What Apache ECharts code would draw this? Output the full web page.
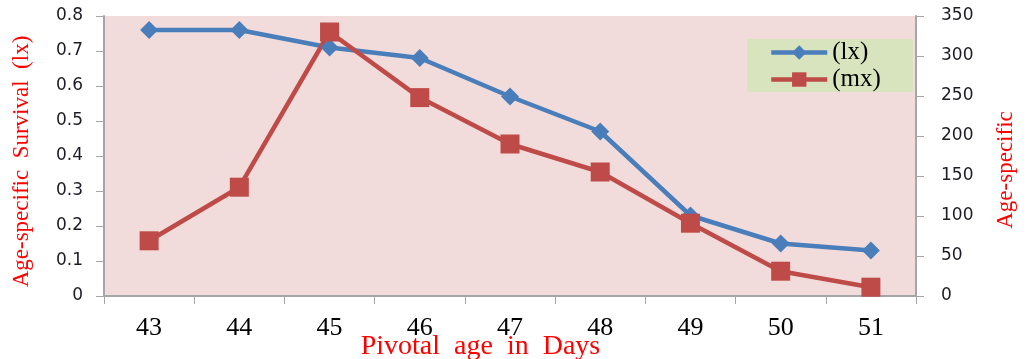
<!DOCTYPE html>
<html>
<head>
<meta charset="utf-8">
<script src="https://cdn.jsdelivr.net/npm/echarts@6/dist/echarts.min.js"></script>
<style>
html,body{margin:0;padding:0;background:#fff;}
#c{width:1027px;height:359px;}
</style>
</head>
<body>
<div id="c"></div>
<script>
const categories = ['43','44','45','46','47','48','49','50','51'];
const lxValues = [0.76, 0.76, 0.71, 0.68, 0.57, 0.47, 0.23, 0.15, 0.13];
const mxValues = [69, 136, 330, 248, 190, 155, 91, 31, 11];
const lxName = '(lx)';
const mxName = '(mx)';

const chart = echarts.init(document.getElementById('c'));
const axisGray = '#a6a6a6';
const labelColor = '#1c1c24';
chart.setOption({
  animation: false,
  backgroundColor: '#ffffff',
  grid: {
    left: 104, right: 111, top: 16, bottom: 63,
    outerBoundsMode: 'none',
    containLabel: false,
    show: true, backgroundColor: '#f2dcdb', borderWidth: 0
  },
  legend: {
    left: 747, top: 39,
    orient: 'vertical',
    backgroundColor: '#d7e4bd',
    padding: [1, 32, 0, 22],
    itemGap: 2,
    itemWidth: 56, itemHeight: 18,
    lineStyle: { width: 4.5 },
    textStyle: { fontFamily: 'Liberation Serif', fontSize: 25, lineHeight: 23, color: '#000' },
    data: [lxName, mxName]
  },
  xAxis: {
    type: 'category',
    data: categories,
    boundaryGap: true,
    name: 'Pivotal  age  in  Days',
    nameLocation: 'middle',
    nameMoveOverlap: false,
    nameGap: 37,
    nameTextStyle: { fontFamily: 'Liberation Serif', fontSize: 28, color: '#ff0000', padding: [0, 59, 0, 0] },
    axisLine: { lineStyle: { color: axisGray, width: 2 } },
    axisTick: { show: true, length: 8, lineStyle: { color: axisGray, width: 1 } },
    axisLabel: { fontFamily: 'Liberation Serif', fontSize: 26, color: '#000', margin: 19 }
  },
  yAxis: [
    {
      type: 'value', min: 0, max: 0.8, interval: 0.1,
      name: 'Age-specific  Survival  (lx)',
      nameLocation: 'middle', nameRotate: 90, nameGap: 71,
      nameMoveOverlap: false,
      nameTextStyle: { fontFamily: 'Liberation Serif', fontSize: 23, color: '#ff0000', padding: [0, 11, 0, 0] },
      splitLine: { show: false },
      axisLine: { show: true, lineStyle: { color: axisGray, width: 2 } },
      axisTick: { show: true, length: 8, lineStyle: { color: axisGray } },
      axisLabel: { fontFamily: 'DejaVu Sans', fontSize: 17, color: labelColor, margin: 21 }
    },
    {
      type: 'value', min: 0, max: 350, interval: 50,
      name: 'Age-specific',
      nameLocation: 'middle', nameRotate: 90, nameGap: 78,
      nameMoveOverlap: false,
      nameTextStyle: { fontFamily: 'Liberation Serif', fontSize: 23, color: '#ff0000', padding: [0, 28, 0, 0] },
      splitLine: { show: false },
      axisLine: { show: true, lineStyle: { color: axisGray, width: 2 } },
      axisTick: { show: true, length: 8, lineStyle: { color: axisGray } },
      axisLabel: { fontFamily: 'DejaVu Sans', fontSize: 17, color: labelColor, margin: 25 }
    }
  ],
  series: [
    {
      name: lxName, type: 'line', yAxisIndex: 0, data: lxValues,
      symbol: 'diamond', symbolSize: 18,
      lineStyle: { color: '#4a7ebb', width: 4.5 },
      itemStyle: { color: '#4a7ebb' }
    },
    {
      name: mxName, type: 'line', yAxisIndex: 1, data: mxValues,
      symbol: 'rect', symbolSize: 19,
      lineStyle: { color: '#be4b48', width: 4.5 },
      itemStyle: { color: '#be4b48' }
    }
  ]
});
</script>
</body>
</html>
